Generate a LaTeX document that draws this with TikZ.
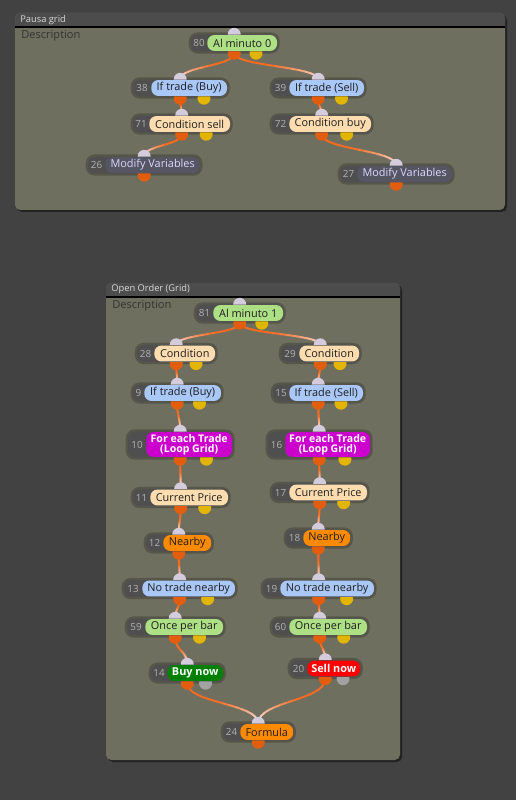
\documentclass[tikz,border=0pt]{standalone}
\usepackage{fontspec}
\setmainfont{Open Sans}
\usetikzlibrary{calc,fit}

\definecolor{cBack}{HTML}{424242}
\definecolor{cPanel}{HTML}{6F6F5F}
\definecolor{cTitle}{HTML}{4C4C4C}
\definecolor{cShade}{HTML}{222222}
\definecolor{cNum}{HTML}{4F4F4F}
\definecolor{cGreen}{HTML}{ADDF85}
\definecolor{cBlue}{HTML}{A9C8F7}
\definecolor{cCream}{HTML}{FDDDB0}
\definecolor{cMagenta}{HTML}{CC00CC}
\definecolor{cOrange}{HTML}{FF8A00}
\definecolor{cBuy}{HTML}{008000}
\definecolor{cSell}{HTML}{FF0000}
\definecolor{cSlate}{HTML}{555564}
\definecolor{cIn}{HTML}{D4CCDC}
\definecolor{cOut}{HTML}{E35D0E}
\definecolor{cYel}{HTML}{E2B500}
\definecolor{cGry}{HTML}{A2A2A2}
\definecolor{cWireA}{HTML}{F76A20}
\definecolor{cWireB}{HTML}{F8E4E2}

\pgfdeclarelayer{bg}
\pgfdeclarelayer{halo}
\pgfdeclarelayer{wires}
\pgfdeclarelayer{ports}
\pgfdeclarelayer{boxes}
\pgfsetlayers{bg,halo,wires,ports,boxes,main}

\tikzset{
  pill/.style={rounded corners=4pt, minimum height=9.07pt, inner xsep=2pt, inner ysep=0pt,
    font=\fontsize{6.2pt}{6pt}\selectfont, text=black!88, align=center},
  trigger/.style={fill=cGreen},
  filter/.style={fill=cBlue},
  cond/.style={fill=cCream},
  getter/.style={fill=cOrange},
  loop/.style={fill=cMagenta, text=white, font=\fontsize{6pt}{5.7pt}\selectfont\bfseries, minimum height=14.2pt},
  buy/.style={fill=cBuy, text=white, font=\fontsize{6.2pt}{6pt}\selectfont\bfseries},
  sell/.style={fill=cSell, text=white, font=\fontsize{6.2pt}{6pt}\selectfont\bfseries},
  action/.style={fill=cSlate, text=white!85!blue},
  numbox/.style={fill=cNum, rounded corners=4pt, inner sep=0pt},
  halo/.style={fill=black, opacity=0.22, rounded corners=5pt, inner sep=1.1pt},
  numtxt/.style={font=\fontsize{5.6pt}{6pt}\selectfont, text=black!30, inner sep=0pt},
  inport/.style={circle, fill=cIn, inner sep=0pt, minimum size=7.4pt},
  outport/.style={circle, fill=cOut, inner sep=0pt, minimum size=7.4pt},
  yout/.style={circle, fill=cYel, inner sep=0pt, minimum size=7.4pt},
  gout/.style={circle, fill=cGry, inner sep=0pt, minimum size=7.4pt},
  noout/.style={inner sep=0pt, minimum size=0pt},
  wire/.style={line width=1.1pt, line cap=round},
  paneltitle/.style={font=\fontsize{5.3pt}{6pt}\selectfont, text=black!15, inner sep=0pt, anchor=west},
  desc/.style={font=\fontsize{6.3pt}{7pt}\selectfont, text=black!80, inner sep=0pt, anchor=west}
}

% name, box left, pill left, right, y, label, style, second port
\newcommand\blk[8]{%
  \coordinate (#1-l) at (#2,#5);
  \node[pill,#7,anchor=west,minimum width={(#4-#3)*0.5669pt}] (#1) at (#3,#5) {#6};
  \begin{pgfonlayer}{boxes}
    \node[numbox,fit=(#1-l)(#1)] (#1-b) {};
  \end{pgfonlayer}
  \begin{pgfonlayer}{halo}
    \node[halo,fit=(#1-b)] (#1-h) {};
  \end{pgfonlayer}
  \node[numtxt] (#1-n) at ($(#1-l)!.5!(#1.west)$) {#1};
  \begin{pgfonlayer}{ports}
    \node[inport] (#1-i) at (#1-b.north) {};
    \node[outport] (#1-o) at ($(#1-b.south)+(0,1.5)$) {};
    \node[#8] (#1-y) at ($(#1-b.south)!.5!(#1-b.south east)+(0,1.5)$) {};
  \end{pgfonlayer}
}

\begin{document}
\begin{tikzpicture}[x=0.02cm, y=-0.02cm]
  \useasboundingbox (0,0) rectangle (516,800);
  \begin{pgfonlayer}{bg}
    \fill[cBack] (0,0) rectangle (516,800);
    % panels
    \fill[cShade, rounded corners=3pt] (17,15) rectangle (507,212);
    \fill[cPanel, rounded corners=3pt] (15,13) rectangle (505,210);
    \fill[cTitle, rounded corners=3pt] (15,13) rectangle (505,27);
    \fill[cTitle] (15,20) rectangle (505,27);
    \draw[black, line width=0.6pt] (15,27) -- (505,27);
    \fill[cShade, rounded corners=3pt] (108,285) rectangle (402,762);
    \fill[cPanel, rounded corners=3pt] (106,283) rectangle (400,760);
    \fill[cTitle, rounded corners=3pt] (106,283) rectangle (400,297);
    \fill[cTitle] (106,290) rectangle (400,297);
    \draw[black, line width=0.6pt] (106,297) -- (400,297);
  \end{pgfonlayer}
  \node[paneltitle] (t1) at (20,20) {Pausa grid};
  \node[desc] (d1) at (21,36) {Description};
  \node[paneltitle] (t2) at (111,289) {Open Order (Grid)};
  \node[desc] (d2) at (112,306) {Description};

  \blk{80}{191}{207}{277}{43}{Al minuto 0}{trigger}{yout}
  \blk{38}{133}{151}{227}{88}{If trade (Buy)}{filter}{yout}
  \blk{39}{272}{289}{364}{88}{If trade (Sell)}{filter}{yout}
  \blk{71}{133}{149}{230}{124}{Condition sell}{cond}{yout}
  \blk{72}{272}{289}{371}{124}{Condition buy}{cond}{yout}
  \blk{26}{88}{105}{200}{165}{Modify Variables}{action}{noout}
  \blk{27}{340}{357}{452}{174}{Modify Variables}{action}{noout}

  \blk{81}{196}{213}{283}{313}{Al minuto 1}{trigger}{yout}
  \blk{28}{137}{154}{215}{353.5}{Condition}{cond}{yout}
  \blk{29}{281}{299}{359}{353.5}{Condition}{cond}{yout}
  \blk{9}{133}{144}{221}{393}{If trade (Buy)}{filter}{yout}
  \blk{15}{273}{289}{363}{393}{If trade (Sell)}{filter}{yout}
  \blk{10}{128}{146}{232}{444.5}{For each Trade\\(Loop Grid)}{loop}{yout}
  \blk{16}{268}{285}{370}{444.5}{For each Trade\\(Loop Grid)}{loop}{yout}
  \blk{11}{133}{150}{228}{497.5}{Current Price}{cond}{yout}
  \blk{17}{272}{289}{367}{492.5}{Current Price}{cond}{yout}
  \blk{12}{146}{163}{211}{543}{Nearby}{getter}{noout}
  \blk{18}{286}{303}{350}{538}{Nearby}{getter}{noout}
  \blk{13}{124}{142}{235}{588.5}{No trade nearby}{filter}{yout}
  \blk{19}{263}{280}{374}{588.5}{No trade nearby}{filter}{yout}
  \blk{59}{127}{145}{223}{627}{Once per bar}{trigger}{yout}
  \blk{60}{272}{289}{367}{627}{Once per bar}{trigger}{yout}
  \blk{14}{151}{167}{223}{673}{Buy now}{buy}{gout}
  \blk{20}{290}{307}{360}{668.5}{Sell now}{sell}{gout}
  \blk{24}{223}{240}{293}{732}{Formula}{getter}{noout}

  % wires: S-curve in 16 pieces, orange at the output, pale at the input
  \begin{pgfonlayer}{wires}
    \foreach \a/\b in {80/38,80/39,38/71,39/72,71/26,72/27,81/28,81/29,28/9,29/15,
                       9/10,15/16,10/11,16/17,11/12,17/18,12/13,18/19,13/59,19/60,
                       59/14,60/20,14/24,20/24}{
      \foreach \k in {0,...,15}{
        \pgfmathsetmacro\tA{\k/16}
        \pgfmathsetmacro\tB{(\k+1)/16}
        \pgfmathsetmacro\sA{3*\tA*\tA-2*\tA*\tA*\tA}
        \pgfmathsetmacro\sB{3*\tB*\tB-2*\tB*\tB*\tB}
        \pgfmathsetmacro\uA{\tA*\tA*\tA+1.5*\tA-1.5*\tA*\tA}
        \pgfmathsetmacro\uB{\tB*\tB*\tB+1.5*\tB-1.5*\tB*\tB}
        \pgfmathtruncatemacro\mixW{min(100,100*(1-(\k+0.5)/16)/0.55)}
        \coordinate (wxa) at ($(\a-o.center)!\sA!(\b-i.center)$);
        \coordinate (wya) at ($(\a-o.center)!\uA!(\b-i.center)$);
        \coordinate (wxb) at ($(\a-o.center)!\sB!(\b-i.center)$);
        \coordinate (wyb) at ($(\a-o.center)!\uB!(\b-i.center)$);
        \draw[wire, draw=cWireA!\mixW!cWireB] (wxa|-wya) -- (wxb|-wyb);
      }
    }
  \end{pgfonlayer}
\end{tikzpicture}
\end{document}
